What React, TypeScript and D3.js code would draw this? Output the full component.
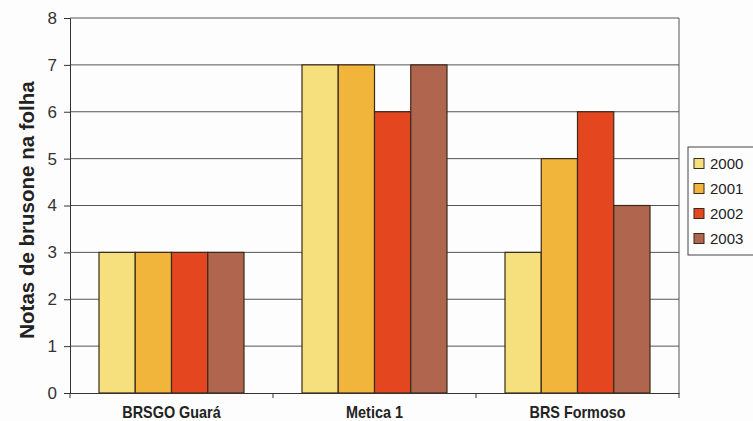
import React, { useEffect, useRef } from 'react';
import * as d3 from 'd3';

const categories = ['BRSGO Guará', 'Metica 1', 'BRS Formoso'];
const years = ['2000', '2001', '2002', '2003'];
const values2000 = [3, 7, 3];
const values2001 = [3, 7, 5];
const values2002 = [3, 6, 6];
const values2003 = [3, 7, 4];
const yTicks = [0, 1, 2, 3, 4, 5, 6, 7, 8];
const colors = ['#f6e07e', '#f2b53c', '#e4471f', '#b0654e'];

const seriesValues = [values2000, values2001, values2002, values2003];

export default function App() {
  const ref = useRef<SVGSVGElement>(null);

  useEffect(() => {
    if (!ref.current) return;
    const svg = d3.select(ref.current);
    svg.selectAll('*').remove();

    const left = 70, right = 679, top = 18, bottom = 393;

    const x0 = d3.scaleBand().domain(categories).range([left, right]).padding(0);
    const x1 = d3.scaleBand().domain(years)
      .range([0, x0.bandwidth()])
      .paddingInner(0)
      .paddingOuter(0.8);
    const y = d3.scaleLinear().domain([0, 8]).range([bottom, top]);

    svg.append('rect').attr('width', 753).attr('height', 421).attr('fill', '#fdfdfd');

    // gridlines
    svg.append('g')
      .selectAll('line')
      .data(yTicks.filter(t => t > 0))
      .enter()
      .append('line')
      .attr('x1', left).attr('x2', right)
      .attr('y1', d => y(d)).attr('y2', d => y(d))
      .attr('stroke', '#555').attr('stroke-width', 1);

    // right border
    svg.append('line')
      .attr('x1', right).attr('x2', right).attr('y1', top).attr('y2', bottom)
      .attr('stroke', '#555');

    // bars
    const groups = svg.append('g')
      .selectAll('g')
      .data(categories)
      .enter()
      .append('g')
      .attr('transform', d => `translate(${x0(d)},0)`);

    groups.selectAll('rect')
      .data((_, i) => years.map((yr, s) => ({ yr, s, v: seriesValues[s][i] })))
      .enter()
      .append('rect')
      .attr('x', d => x1(d.yr)!)
      .attr('width', x1.bandwidth())
      .attr('y', d => y(d.v))
      .attr('height', d => y(0) - y(d.v))
      .attr('fill', d => colors[d.s])
      .attr('stroke', '#3a2a1a')
      .attr('stroke-width', 1.2);

    // y axis
    const yAxis = svg.append('g')
      .attr('transform', `translate(${left},0)`)
      .call(d3.axisLeft(y).tickValues(yTicks).tickSize(6).tickPadding(7).tickFormat(d3.format('d')));
    yAxis.select('.domain').attr('stroke', '#333');
    yAxis.selectAll('.tick line').attr('stroke', '#333');
    yAxis.selectAll('text')
      .attr('font-family', 'Liberation Sans, Arial, sans-serif')
      .attr('font-size', 17)
      .attr('fill', '#333');

    // x axis
    const xAxis = svg.append('g')
      .attr('transform', `translate(0,${bottom})`)
      .call(d3.axisBottom(x0).tickSize(0).tickFormat(() => ''));
    xAxis.select('.domain').attr('stroke', '#333');
    xAxis.selectAll('.tick').remove();
    const bounds = [left, ...categories.map(c => x0(c)! + x0.bandwidth())];
    svg.append('g')
      .selectAll('line')
      .data(bounds)
      .enter()
      .append('line')
      .attr('x1', d => d).attr('x2', d => d)
      .attr('y1', bottom).attr('y2', bottom + 5)
      .attr('stroke', '#333');

    // category labels, slightly condensed like the original
    svg.append('g')
      .selectAll('text')
      .data(categories)
      .enter()
      .append('text')
      .attr('transform', d => `translate(${x0(d)! + x0.bandwidth() / 2},418) scale(0.9,1)`)
      .attr('text-anchor', 'middle')
      .attr('font-family', 'Liberation Sans, Arial, sans-serif')
      .attr('font-weight', 'bold')
      .attr('font-size', 16)
      .attr('fill', '#222')
      .text(d => d);

    // y title
    svg.append('text')
      .attr('transform', `translate(34,210) rotate(-90)`)
      .attr('text-anchor', 'middle')
      .attr('font-family', 'Liberation Sans, Arial, sans-serif')
      .attr('font-weight', 'bold')
      .attr('font-size', 20.5)
      .attr('fill', '#222')
      .text('Notas de brusone na folha');

    // legend
    const legend = svg.append('g').attr('transform', 'translate(688,147)');
    legend.append('rect')
      .attr('width', 70).attr('height', 108)
      .attr('fill', 'none').attr('stroke', '#444');
    const rowY = d3.scaleBand().domain(years).range([4, 104]);
    years.forEach((yr, i) => {
      const cy = rowY(yr)! + rowY.bandwidth() / 2;
      legend.append('rect')
        .attr('x', 6).attr('y', cy - 5)
        .attr('width', 10).attr('height', 10)
        .attr('fill', colors[i]).attr('stroke', '#3a2a1a');
      legend.append('text')
        .attr('x', 22).attr('y', cy + 5)
        .attr('font-family', 'Liberation Sans, Arial, sans-serif')
        .attr('font-size', 15)
        .attr('fill', '#222')
        .text(yr);
    });
  }, []);

  return (
    <svg
      ref={ref}
      width={753}
      height={421}
      style={{ position: 'absolute', left: 0, top: 0 }}
    />
  );
}
